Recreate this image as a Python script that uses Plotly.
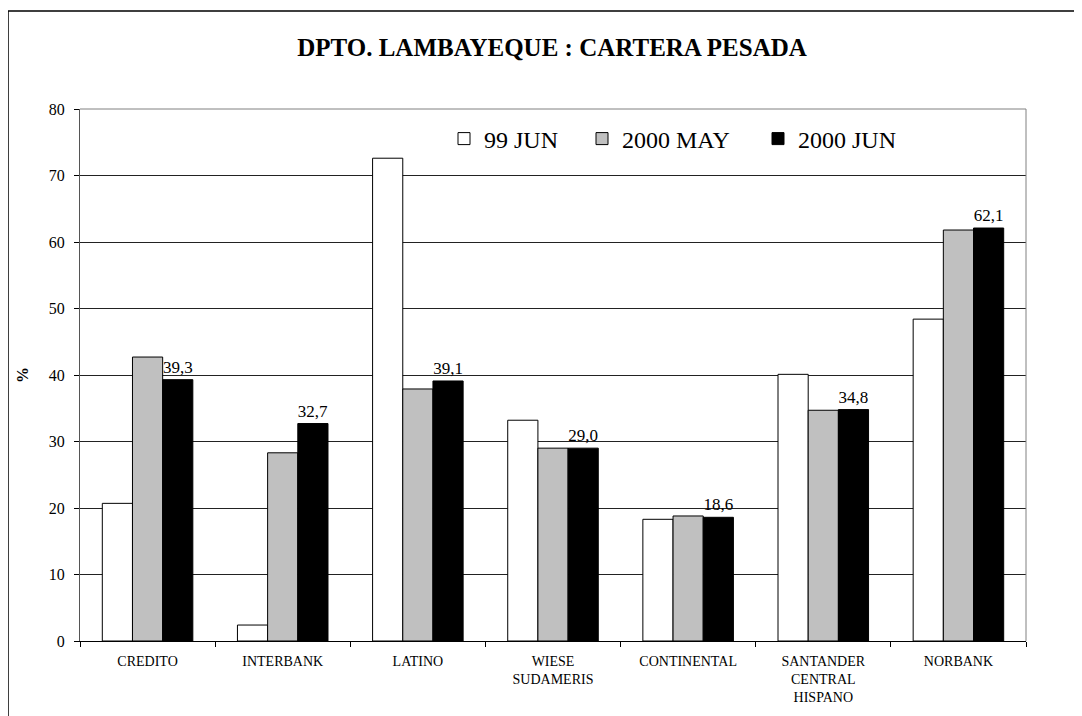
import plotly.graph_objects as go

categories = ["CREDITO", "INTERBANK", "LATINO", "WIESE<br>SUDAMERIS", "CONTINENTAL",
              "SANTANDER<br>CENTRAL<br>HISPANO", "NORBANK"]
series_names = ["99 JUN", "2000 MAY", "2000 JUN"]
jun99 = [20.7, 2.4, 72.6, 33.2, 18.3, 40.1, 48.4]
may2000 = [42.7, 28.3, 37.9, 29.0, 18.8, 34.7, 61.8]
jun2000 = [39.3, 32.7, 39.1, 29.0, 18.6, 34.8, 62.1]
y_ticks = [0, 10, 20, 30, 40, 50, 60, 70, 80]

FONT = "Liberation Serif"
OFF = 8  # page body margin offset

FW, FH = 1082 - OFF, 716 - OFF
# plot area in screen coords: x 80..1026, y 109..641
X0, X1, Y0, Y1 = 80 - OFF, 1026 - OFF, 109 - OFF, 641 - OFF
L, R, T, B = X0, FW - X1, Y0, FH - Y1
W, H = X1 - X0, Y1 - Y0

def px(x):
    return (x - OFF - X0) / W

def py(y):
    return (Y1 - (y - OFF)) / H

fig = go.Figure()
fig.add_trace(go.Bar(name=series_names[0], x=categories, y=jun99, legend="legend",
                     marker=dict(color="#FFFFFF", line=dict(color="#000000", width=1))))
fig.add_trace(go.Bar(name=series_names[1], x=categories, y=may2000, legend="legend2",
                     marker=dict(color="#C0C0C0", line=dict(color="#000000", width=1))))
fig.add_trace(go.Bar(name=series_names[2], x=categories, y=jun2000, legend="legend3",
                     marker=dict(color="#000000", line=dict(color="#000000", width=1)),
                     texttemplate="%{y:.1f}", textposition="outside",
                     textfont=dict(family=FONT, size=17, color="#000000"),
                     constraintext="none", cliponaxis=False))

def leg(xs):
    return dict(orientation="h", x=px(xs), xanchor="left", y=py(139), yanchor="middle",
                font=dict(family=FONT, size=24, color="#000000"),
                bgcolor="rgba(255,255,255,0)", borderwidth=0, itemwidth=30)

fig.update_layout(
    width=FW, height=FH,
    margin=dict(l=L, r=R, t=T, b=B, autoexpand=False),
    paper_bgcolor="#FFFFFF", plot_bgcolor="#FFFFFF",
    separators=",.",
    barmode="group", bargap=0.33, bargroupgap=0,
    font=dict(family=FONT, color="#000000"),
    title=dict(text="<b>DPTO. LAMBAYEQUE : CARTERA PESADA</b>",
               x=px(552), xanchor="center", xref="paper",
               y=1 - (47 - OFF) / FH, yanchor="middle", yref="container",
               font=dict(family=FONT, size=25, color="#000000")),
    legend=leg(444), legend2=leg(582), legend3=leg(758),
    showlegend=True,
    hovermode=False,
    xaxis=dict(type="category", showgrid=False, ticks="outside", tickson="boundaries",
               ticklen=5, tickcolor="#000000", showline=True, linecolor="#000000", linewidth=1,
               tickfont=dict(family=FONT, size=14, color="#000000"),
               ticklabelstandoff=7),
    yaxis=dict(range=[0, 80], tickvals=y_ticks, showgrid=True, gridcolor="#222222", gridwidth=1,
               ticks="outside", ticklen=5, tickcolor="#000000",
               showline=True, linecolor="#555555", linewidth=1, zeroline=False,
               tickfont=dict(family=FONT, size=16, color="#000000"),
               ticklabelstandoff=6,
               title=dict(text="<b>%</b>", font=dict(family=FONT, size=16, color="#000000"),
                          standoff=16)),
    shapes=[
        dict(type="line", xref="paper", yref="paper", x0=0, x1=1, y0=1, y1=1,
             line=dict(color="#808080", width=1)),
        dict(type="line", xref="paper", yref="paper", x0=1, x1=1, y0=0, y1=1,
             line=dict(color="#808080", width=1)),
        dict(type="rect", xref="paper", yref="paper",
             x0=px(8), x1=px(1100), y0=py(730), y1=py(11),
             line=dict(color="#000000", width=1.5), fillcolor="rgba(0,0,0,0)"),
    ],
)

fig.write_html("out.html")
